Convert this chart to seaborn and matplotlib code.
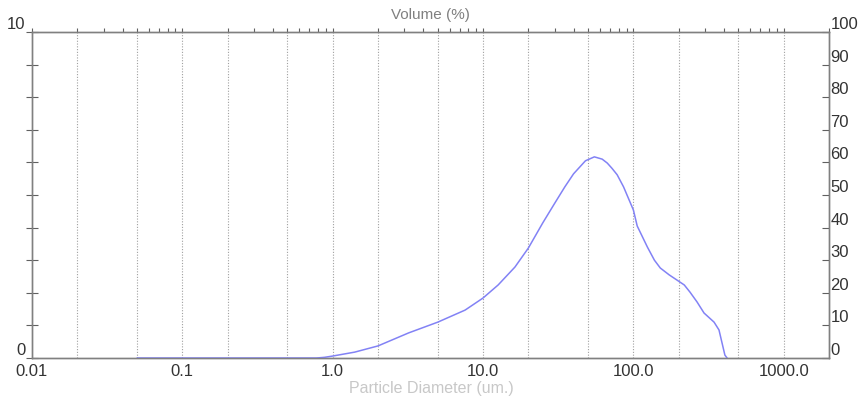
import pandas as pd
import matplotlib
matplotlib.use("Agg")
import matplotlib.pyplot as plt
import matplotlib.ticker as mticker
import seaborn as sns

# particle size distribution
diameter = [0.05, 0.1, 0.2, 0.5, 0.78, 0.88, 1.0, 1.4, 2.0, 3.2, 5.0, 7.6, 10.0, 12.6, 16.3,
            20.0, 25.0, 30.0, 35.0, 40.0, 48.0, 55.0, 62.0, 67.0, 72.0, 78.0, 86.0, 100.0,
            106.0, 124.0, 138.0, 151.0, 173.0, 195.0, 218.0, 238.0, 265.0, 295.0, 344.0,
            371.0, 406.0, 420.0]
volume = [0, 0, 0, 0, 0, 0.02, 0.06, 0.18, 0.37, 0.77, 1.10, 1.47, 1.84, 2.24, 2.79,
          3.37, 4.15, 4.75, 5.25, 5.65, 6.05, 6.17, 6.10, 5.98, 5.82, 5.62, 5.25, 4.54,
          4.05, 3.40, 3.00, 2.76, 2.55, 2.39, 2.24, 2.02, 1.72, 1.38, 1.10,
          0.86, 0.09, 0]

x_ticks = [0.01, 0.1, 1, 10, 100, 1000]
x_labels = ["0.01", "0.1", "1.0", "10.0", "100.0", "1000.0"]
grid_pos = [0.02, 0.05, 0.1, 0.2, 0.5, 1, 2, 5, 10, 20, 50, 100, 200, 500, 1000]
right_ticks = list(range(0, 101, 10))

df = pd.DataFrame({"d": diameter, "v": volume})

sns.set_style("white")
plt.rcParams["font.family"] = ["Liberation Sans", "DejaVu Sans"]

fig = plt.figure(figsize=(8.58, 3.96), dpi=100)
ax = fig.add_axes([32 / 858, 1 - 358 / 396, (829 - 32) / 858, (358 - 32) / 396])

ax.vlines(grid_pos, 0, 10, colors="#a0a0a0", linestyles=(0, (1, 1.5)), linewidth=0.8, zorder=1)

sns.lineplot(data=df, x="d", y="v", ax=ax, color="#8282f5", linewidth=1.1, zorder=3)

ax.set_xscale("log")
ax.set_xlim(0.01, 2000)
ax.set_ylim(0, 10)

ax.xaxis.set_major_locator(mticker.FixedLocator(x_ticks))
ax.xaxis.set_major_formatter(mticker.FixedFormatter(x_labels))
ax.xaxis.set_minor_locator(mticker.LogLocator(base=10, subs=[2, 3, 4, 5, 6, 7, 8, 9], numticks=20))
ax.xaxis.set_minor_formatter(mticker.NullFormatter())
ax.tick_params(axis="x", which="both", direction="out", length=3, width=0.8, color="#606060",
               labelsize=12, labelcolor="#333333", top=True, pad=1)
ax.tick_params(axis="x", which="both", top=True, labeltop=False)

ax.set_yticks(range(0, 11))
ax.set_yticklabels(["0"] + [""] * 9 + ["10"])
ax.tick_params(axis="y", which="major", direction="inout", length=9, width=0.8, color="#606060",
               labelsize=12, labelcolor="#333333", pad=0)
for lbl in ax.get_yticklabels():
    lbl.set_va("bottom")

ax2 = ax.twinx()
ax2.set_ylim(0, 100)
ax2.set_yticks(right_ticks)
ax2.tick_params(axis="y", direction="in", length=5, width=0.8, color="#606060",
                labelsize=12, labelcolor="#333333", pad=1)
for lbl in ax2.get_yticklabels():
    lbl.set_va("bottom")

for a in (ax, ax2):
    for s in a.spines.values():
        s.set_color("#808080")
        s.set_linewidth(1.0)

ax.set_xlabel("")
ax.set_ylabel("")
fig.text(430 / 858, 1 - 15 / 396, "Volume (%)", ha="center", va="center",
         fontsize=11, color="#808080")
fig.text(431 / 858, 1 - 389 / 396, "Particle Diameter (um.)", ha="center", va="center",
         fontsize=11.5, color="#c8c8c8")

fig.savefig("out.png", dpi=100)
